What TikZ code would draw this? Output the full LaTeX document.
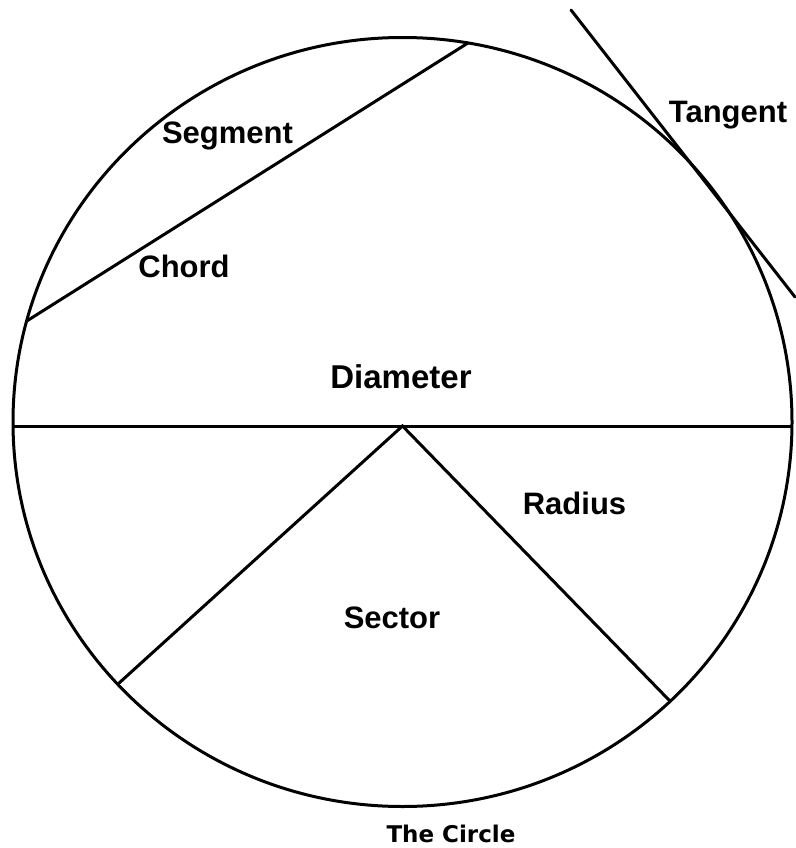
\documentclass[tikz,border=0pt]{standalone}
\usepackage{fontspec}
\setmainfont{Liberation Sans}
\newfontfamily\captfont{DejaVu Sans}
\begin{document}
\begin{tikzpicture}[x=1pt,y=-1pt,line width=3pt,
  lbl/.style={font=\fontsize{31}{31}\selectfont\bfseries,inner sep=0pt,anchor=base},
  capt/.style={font=\captfont\fontsize{23}{23}\selectfont\bfseries,inner sep=0pt,anchor=base west}]
\useasboundingbox (0,0) rectangle (795,848);
\coordinate (O) at (402.5,422);
\coordinate (C) at (402.5,426);
\coordinate (DL) at (13,426);
\coordinate (DR) at (792,426);
\coordinate (A) at (26.6,321.1);
\coordinate (B) at (468.6,42.6);
\coordinate (R1) at (118,684);
\coordinate (R2) at (670.4,701.5);
\coordinate (T1) at (571,10);
\coordinate (T2) at (795,297);
\draw (O) ellipse [x radius=389.5, y radius=384.5];
\draw (DL) -- (DR);
\draw (A) -- (B);
\draw (R1) -- (C) -- (R2);
\draw[line cap=round] (T1) -- (T2);
\node[lbl] (seg) at (227.5,143) {Segment};
\node[lbl] (cho) at (184,277) {Chord};
\node[lbl,font=\fontsize{33}{33}\selectfont\bfseries] (dia) at (401,388) {Diameter};
\node[lbl] (rad) at (574.5,514) {Radius};
\node[lbl] (sec) at (392,628) {Sector};
\node[lbl] (tan) at (728,122) {Tangent};
\node[capt] (cir) at (385,842) {The Circle};
\end{tikzpicture}
\end{document}
